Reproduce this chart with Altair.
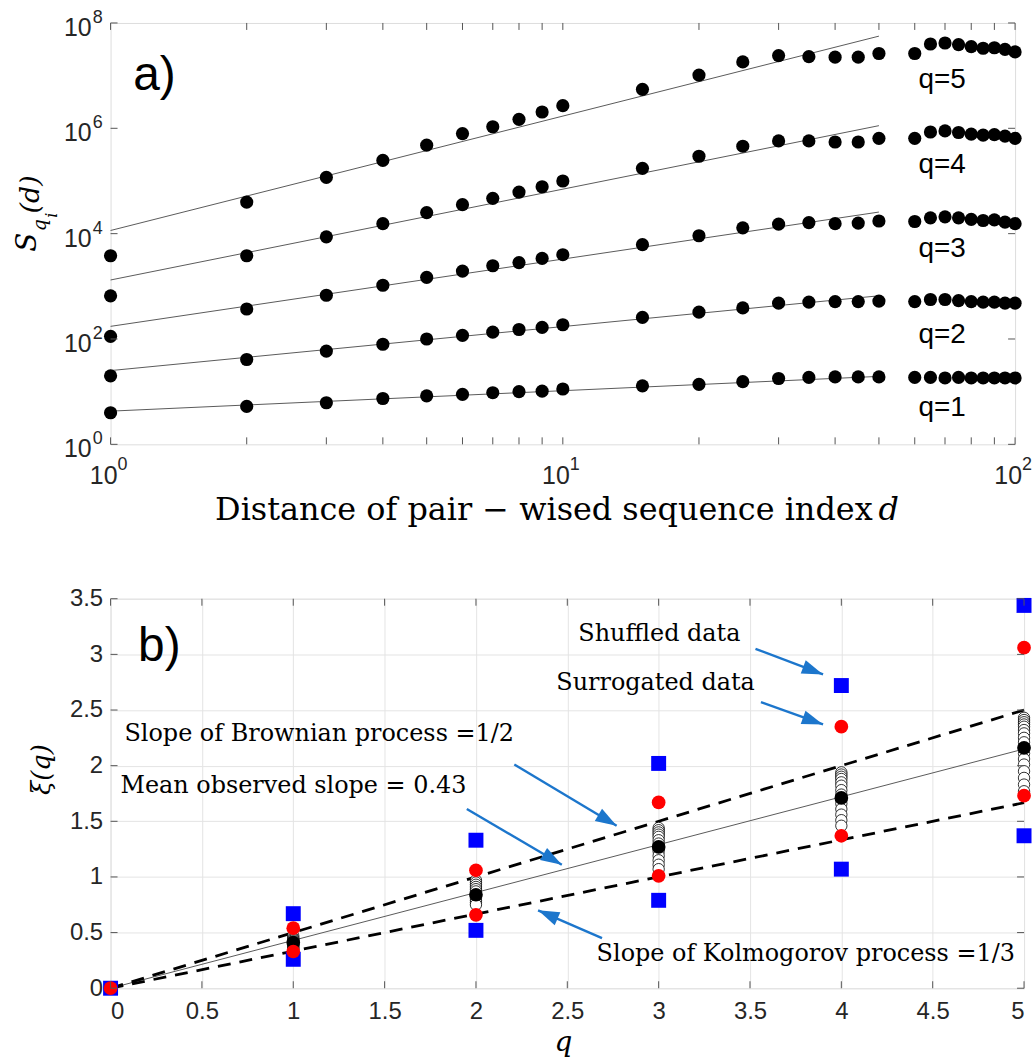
import math
import altair as alt
import pandas as pd

# ======================= Panel a) data =======================
d_vals = [1, 2, 3, 4, 5, 6, 7, 8, 9, 10, 15, 20, 25, 30, 35, 40, 45, 50,
          60, 65, 70, 75, 80, 85, 90, 95, 100]
# log10 of S_q(d), one list per order q
log_s_q1 = [0.60, 0.72, 0.79, 0.87, 0.92, 0.95, 0.98, 1.00, 1.01, 1.05, 1.11, 1.14, 1.19, 1.25, 1.27, 1.28, 1.28, 1.28,
            1.27, 1.27, 1.26, 1.27, 1.26, 1.26, 1.26, 1.26, 1.26]
log_s_q2 = [1.30, 1.61, 1.77, 1.90, 2.00, 2.07, 2.13, 2.18, 2.22, 2.27, 2.41, 2.51, 2.59, 2.68, 2.70, 2.71, 2.71, 2.72,
            2.71, 2.75, 2.75, 2.73, 2.71, 2.70, 2.70, 2.68, 2.68]
log_s_q3 = [2.05, 2.57, 2.83, 3.02, 3.17, 3.29, 3.39, 3.45, 3.53, 3.60, 3.79, 3.96, 4.11, 4.18, 4.21, 4.19, 4.20, 4.24,
            4.23, 4.30, 4.32, 4.30, 4.27, 4.25, 4.26, 4.22, 4.19]
log_s_q4 = [2.82, 3.58, 3.94, 4.19, 4.40, 4.55, 4.67, 4.79, 4.89, 5.00, 5.24, 5.47, 5.66, 5.76, 5.76, 5.74, 5.74, 5.81,
            5.81, 5.93, 5.95, 5.92, 5.89, 5.87, 5.88, 5.85, 5.81]
log_s_q5 = [3.58, 4.60, 5.07, 5.39, 5.68, 5.90, 6.03, 6.17, 6.31, 6.43, 6.74, 7.01, 7.26, 7.38, 7.36, 7.35, 7.35, 7.42,
            7.42, 7.60, 7.62, 7.59, 7.55, 7.52, 7.53, 7.50, 7.45]
orders = [1, 2, 3, 4, 5]
log_series = [log_s_q1, log_s_q2, log_s_q3, log_s_q4, log_s_q5]

# fitted power-law lines (log10 S at d=1 and d=50)
fit_d = [1, 50]
fit_log_start = [0.63, 1.40, 2.24, 3.12, 4.06]
fit_log_end = [1.29, 2.82, 4.41, 6.05, 7.75]

qlabel_text = ["q=1", "q=2", "q=3", "q=4", "q=5"]
qlabel_d = 69
qlabel_log = [0.68, 2.07, 3.70, 5.31, 6.92]

xa_label_vals = [1, 10, 100]
xa_label_exp = ["0", "1", "2"]
ya_label_vals = [1, 1e2, 1e4, 1e6, 1e8]
ya_label_exp = ["0", "2", "4", "6", "8"]
xa_tick_vals = [1, 2, 3, 4, 5, 6, 7, 8, 9, 10, 20, 30, 40, 50, 60, 70, 80, 90, 100]

# ======================= Panel b) data =======================
shuf_q = [0, 1, 1, 2, 2, 3, 3, 4, 4, 5, 5]
shuf_v = [0.0, 0.67, 0.26, 1.33, 0.52, 2.02, 0.79, 2.72, 1.07, 3.44, 1.37]
surr_q = [0, 1, 1, 2, 2, 3, 3, 4, 4, 5, 5]
surr_v = [0.0, 0.54, 0.33, 1.06, 0.66, 1.67, 1.01, 2.35, 1.37, 3.06, 1.73]
mean_q = [0, 1, 2, 3, 4, 5]
mean_v = [0.0, 0.41, 0.84, 1.27, 1.71, 2.16]
indiv_q1 = [0.47, 0.45, 0.44, 0.43, 0.42, 0.40, 0.39, 0.38, 0.37, 0.36, 0.35]
indiv_q2 = [0.97, 0.95, 0.93, 0.91, 0.89, 0.87, 0.81, 0.79, 0.77, 0.75]
indiv_q3 = [1.44, 1.42, 1.40, 1.38, 1.36, 1.33, 1.30, 1.23, 1.19, 1.15, 1.11, 1.07]
indiv_q4 = [1.94, 1.92, 1.90, 1.88, 1.85, 1.82, 1.78, 1.74, 1.66, 1.61, 1.56, 1.51, 1.46]
indiv_q5 = [2.43, 2.41, 2.39, 2.37, 2.35, 2.32, 2.29, 2.25, 2.21, 2.11, 2.06, 2.01, 1.95, 1.89, 1.83, 1.77]
indiv_all = [indiv_q1, indiv_q2, indiv_q3, indiv_q4, indiv_q5]

line_q = [0, 5]
brownian_slope = 0.5
kolmogorov_slope = 1 / 3
mean_slope = 0.43

b_ticks_x = [0, 0.5, 1, 1.5, 2, 2.5, 3, 3.5, 4, 4.5, 5]
b_ticks_y = [0, 0.5, 1, 1.5, 2, 2.5, 3, 3.5]

ann_text = ["Shuffled data", "Surrogated data", "Slope of Brownian process =1/2",
            "Mean observed slope = 0.43"]
ann_q = [2.56, 2.44, 0.076, 0.054]
ann_v = [3.18, 2.74, 2.28, 1.82]
kolm_text = ["Slope of Kolmogorov process =1/3"]
kolm_q = [4.95]
kolm_v = [0.31]

arrow_q0 = [3.53, 3.56, 2.21, 1.95, 2.69]
arrow_v0 = [3.05, 2.57, 2.01, 1.61, 0.45]
arrow_q1 = [3.90, 3.90, 2.77, 2.47, 2.34]
arrow_v1 = [2.82, 2.37, 1.46, 1.11, 0.70]

# ======================= styling =======================
SANS = "Liberation Sans"
SERIF = "DejaVu Serif"
AX_COL = "#262626"
ARROW_COL = "#1c76cc"
W1, H1 = 908, 423
W2, H2 = 917, 391
TICK = 7

# ======================= Panel a) chart =======================
rows = []
for q, ls in zip(orders, log_series):
    for d, l in zip(d_vals, ls):
        rows.append({"q": q, "d": d, "S": 10 ** l})
df_a = pd.DataFrame(rows)
fit_rows = []
for q, a, b in zip(orders, fit_log_start, fit_log_end):
    fit_rows.append({"q": q, "d": fit_d[0], "S": 10 ** a})
    fit_rows.append({"q": q, "d": fit_d[1], "S": 10 ** b})
df_fit = pd.DataFrame(fit_rows)
df_ql = pd.DataFrame({"t": qlabel_text, "d": [qlabel_d] * 5, "S": [10 ** v for v in qlabel_log]})

xs = alt.Scale(type="log", domain=[1, 100], nice=False)
ys = alt.Scale(type="log", domain=[1, 1e8], nice=False)
X = alt.X("d:Q", scale=xs, axis=None)
Y = alt.Y("S:Q", scale=ys, axis=None)

fit_layer = alt.Chart(df_fit).mark_line(color="#5a5a5a", strokeWidth=1).encode(x=X, y=Y, detail="q:N")
pts_layer = alt.Chart(df_a).mark_circle(size=175, color="black", opacity=1).encode(x=X, y=Y)
ql_layer = alt.Chart(df_ql).mark_text(font=SANS, fontSize=28, color="black", align="center",
                                      baseline="middle").encode(x=X, y=Y, text="t:N")
df_alab = pd.DataFrame({"t": ["a)"], "d": [1.25], "S": [10 ** 7.0]})
alab_layer = alt.Chart(df_alab).mark_text(font=SANS, fontSize=48, color="black", align="center",
                                          baseline="middle").encode(x=X, y=Y, text="t:N")

df_xt = pd.DataFrame({"d": xa_tick_vals})
xt_bot = alt.Chart(df_xt).mark_rule(color="#555", strokeWidth=1).encode(
    x=X, y=alt.value(H1), y2=alt.value(H1 - TICK))
xt_top = alt.Chart(df_xt).mark_rule(color="#555", strokeWidth=1).encode(
    x=X, y=alt.value(0), y2=alt.value(TICK))
df_yt = pd.DataFrame({"S": ya_label_vals})
yt_left = alt.Chart(df_yt).mark_rule(color="#555", strokeWidth=1).encode(
    y=Y, x=alt.value(0), x2=alt.value(TICK))
yt_right = alt.Chart(df_yt).mark_rule(color="#555", strokeWidth=1).encode(
    y=Y, x=alt.value(W1 - TICK), x2=alt.value(W1))

df_xl = pd.DataFrame({"d": xa_label_vals, "e": xa_label_exp, "b": ["10"] * 3})
xl_base = alt.Chart(df_xl).mark_text(font=SANS, fontSize=25, color=AX_COL, align="right",
                                     baseline="middle", dx=7).encode(x=X, y=alt.value(H1 + 32), text="b:N")
xl_exp = alt.Chart(df_xl).mark_text(font=SANS, fontSize=18, color=AX_COL, align="left",
                                    baseline="middle", dx=7).encode(x=X, y=alt.value(H1 + 21), text="e:N")
df_yl = pd.DataFrame({"S": ya_label_vals, "e": ya_label_exp, "b": ["10"] * 5})
yl_base = alt.Chart(df_yl).mark_text(font=SANS, fontSize=25, color=AX_COL, align="right",
                                     baseline="middle", dy=5).encode(y=Y, x=alt.value(-19), text="b:N")
yl_exp = alt.Chart(df_yl).mark_text(font=SANS, fontSize=18, color=AX_COL, align="left",
                                    baseline="middle", dy=-5).encode(y=Y, x=alt.value(-18), text="e:N")


def label(txt, x, y, size, style="normal", font=SERIF, align="center", angle=0):
    return alt.Chart(pd.DataFrame({"t": [txt]})).mark_text(
        font=font, fontSize=size, fontStyle=style, color="black", align=align,
        baseline="middle", angle=angle).encode(x=alt.value(x), y=alt.value(y), text="t:N")


ytitle = [
    label("S", -83, 220, 28, "italic", angle=270),
    label("q", -71, 203, 19, "italic", angle=270),
    label("i", -59, 193, 16, "italic", angle=270),
    label("(d)", -80, 172, 27, "italic", angle=270),
]
xtitle = [
    label("Distance of pair \u2212 wised sequence index", 765, 489, 32, align="right"),
    label("d", 771, 489, 32, "italic", align="left"),
]

panel_a = alt.layer(
    fit_layer, pts_layer, ql_layer, alab_layer, xt_bot, xt_top, yt_left, yt_right,
    xl_base, xl_exp, yl_base, yl_exp, *ytitle, *xtitle
).properties(width=W1, height=H1)

# ======================= Panel b) chart =======================
xs2 = alt.Scale(domain=[0, 5], nice=False)
ys2 = alt.Scale(domain=[0, 3.5], nice=False)
axis_x2 = alt.Axis(values=b_ticks_x, format="~g", grid=True, gridColor="#e4e4e4", ticks=False, domain=False,
                   labelFont=SANS, labelFontSize=24, labelColor=AX_COL, labelPadding=11,
                   title="q", titleFont=SERIF, titleFontStyle="italic", titleFontWeight="normal",
                   titleFontSize=28, titleColor="black", titleX=454, titleY=55, titleBaseline="middle")
axis_y2 = alt.Axis(values=b_ticks_y, format="~g", grid=True, gridColor="#e4e4e4", ticks=False, domain=False,
                   labelFont=SANS, labelFontSize=24, labelColor=AX_COL, labelPadding=8,
                   title="\u03be(q)", titleFont=SERIF, titleFontStyle="italic", titleFontWeight="normal",
                   titleFontSize=26, titleColor="black", titleX=-69, titleY=171, titleAngle=270,
                   titleAlign="center", titleBaseline="middle")
X2 = alt.X("q:Q", scale=xs2, axis=axis_x2)
Y2 = alt.Y("v:Q", scale=ys2, axis=axis_y2)

df_lines = pd.DataFrame({
    "q": line_q * 2,
    "v": [brownian_slope * q for q in line_q] + [kolmogorov_slope * q for q in line_q],
    "k": ["b", "b", "k", "k"],
})
df_mean_line = pd.DataFrame({"q": line_q, "v": [mean_slope * q for q in line_q]})

mean_line = alt.Chart(df_mean_line).mark_line(color="#5a5a5a", strokeWidth=1).encode(x=X2, y=Y2)
dash_layer = alt.Chart(df_lines).mark_line(color="black", strokeWidth=2.8, strokeDash=[13, 9]).encode(
    x=X2, y=Y2, detail="k:N")

ind_rows = []
for q, vals in zip([1, 2, 3, 4, 5], indiv_all):
    for v in vals:
        ind_rows.append({"q": q, "v": v})
df_ind = pd.DataFrame(ind_rows)
ind_layer = alt.Chart(df_ind).mark_point(shape="circle", filled=True, fill="white", stroke="black",
                                         strokeWidth=0.8, size=130, opacity=1).encode(x=X2, y=Y2)
mean_layer = alt.Chart(pd.DataFrame({"q": mean_q, "v": mean_v})).mark_circle(
    size=190, color="black", opacity=1).encode(x=X2, y=Y2)
shuf_layer = alt.Chart(pd.DataFrame({"q": shuf_q, "v": shuf_v})).mark_square(
    size=225, color="#0000ff", opacity=1).encode(x=X2, y=Y2)
surr_layer = alt.Chart(pd.DataFrame({"q": surr_q, "v": surr_v})).mark_circle(
    size=190, color="#ff0000", opacity=1).encode(x=X2, y=Y2)

px_q = W2 / 5
px_v = H2 / 3.5
angs = []
for a, b, c, d in zip(arrow_q0, arrow_v0, arrow_q1, arrow_v1):
    dx = (c - a) * px_q
    dys = -(d - b) * px_v
    angs.append(math.degrees(math.atan2(dx, -dys)) % 360)
df_arr = pd.DataFrame({"q": arrow_q0, "v": arrow_v0, "q1": arrow_q1, "v1": arrow_v1, "ang": angs})
arr_lines = alt.Chart(df_arr).mark_rule(color=ARROW_COL, strokeWidth=2.4).encode(
    x=X2, y=Y2, x2="q1:Q", y2="v1:Q")
arr_heads = alt.Chart(df_arr).mark_point(shape="M0,0L-0.6,1.8L0.6,1.8Z", filled=True, color=ARROW_COL,
                                         size=560, opacity=1).encode(
    x=alt.X("q1:Q", scale=xs2, axis=axis_x2), y=alt.Y("v1:Q", scale=ys2, axis=axis_y2),
    angle=alt.Angle("ang:Q", scale=None))

ann_layer = alt.Chart(pd.DataFrame({"t": ann_text, "q": ann_q, "v": ann_v})).mark_text(
    font=SERIF, fontSize=24, color="black", align="left", baseline="middle").encode(x=X2, y=Y2, text="t:N")
kolm_layer = alt.Chart(pd.DataFrame({"t": kolm_text, "q": kolm_q, "v": kolm_v})).mark_text(
    font=SERIF, fontSize=24, color="black", align="right", baseline="middle").encode(x=X2, y=Y2, text="t:N")
blab_layer = alt.Chart(pd.DataFrame({"t": ["b)"], "q": [0.267], "v": [3.07]})).mark_text(
    font=SANS, fontSize=48, color="black", align="center", baseline="middle").encode(x=X2, y=Y2, text="t:N")

df_bx = pd.DataFrame({"q": b_ticks_x})
df_by = pd.DataFrame({"v": b_ticks_y})
bt = [
    alt.Chart(df_bx).mark_rule(color="#555").encode(x=X2, y=alt.value(H2), y2=alt.value(H2 - TICK)),
    alt.Chart(df_bx).mark_rule(color="#555").encode(x=X2, y=alt.value(0), y2=alt.value(TICK)),
    alt.Chart(df_by).mark_rule(color="#555").encode(y=Y2, x=alt.value(0), x2=alt.value(TICK)),
    alt.Chart(df_by).mark_rule(color="#555").encode(y=Y2, x=alt.value(W2 - TICK), x2=alt.value(W2)),
]

panel_b = alt.layer(
    mean_line, dash_layer, ind_layer, mean_layer, shuf_layer, surr_layer,
    arr_lines, arr_heads, ann_layer, kolm_layer, blab_layer, *bt
).properties(width=W2, height=H2)

chart = alt.vconcat(panel_a, panel_b, spacing=59).properties(
    padding={"left": 13, "top": 6, "right": 0, "bottom": 0}
).configure_view(stroke="#6a6a6a", strokeWidth=1).configure(background="white")

chart.save("out.html", embed_options={"renderer": "svg", "actions": False})
